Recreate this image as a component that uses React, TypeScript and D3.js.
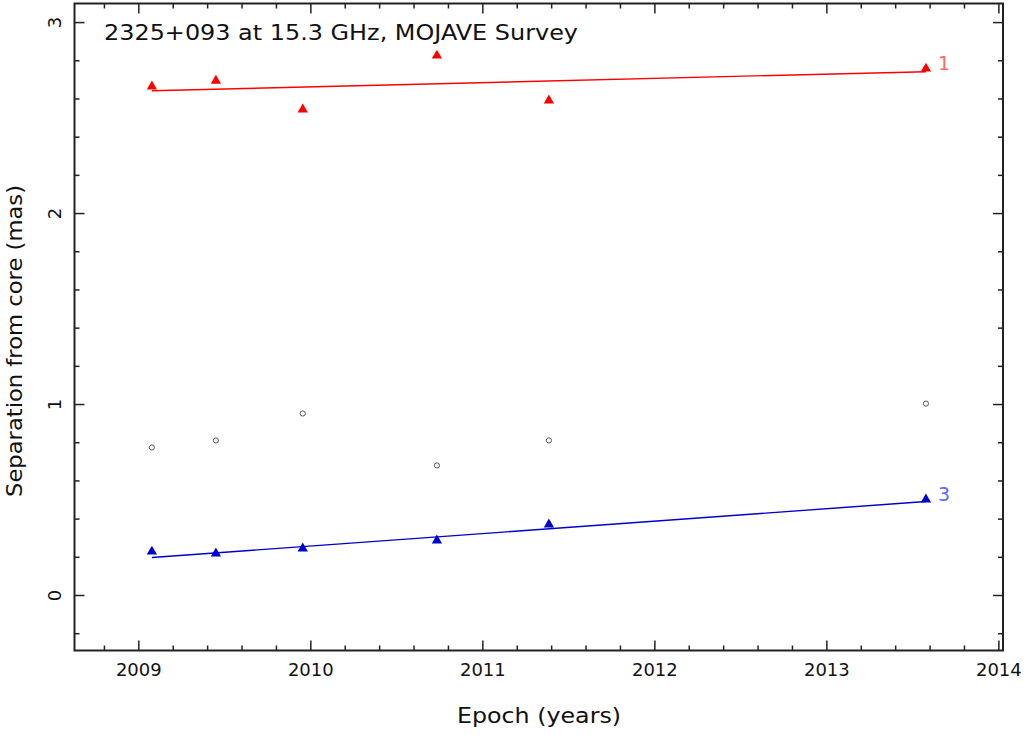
import React from 'react';
import * as d3 from 'd3';

const W = 1027;
const H = 735;

// epochs of the six MOJAVE observations (decimal years)
const epochs = [2009.076, 2009.448, 2009.953, 2010.733, 2011.384, 2013.576];

// component 1 (red), component 3 (blue), unidentified (open circles)
const comp1 = [2.665, 2.696, 2.545, 2.827, 2.592, 2.759];
const comp3 = [0.23, 0.22, 0.246, 0.288, 0.372, 0.503];
const other = [0.775, 0.812, 0.953, 0.681, 0.812, 1.005];

// linear fits: [epoch, separation] at both ends
const fit1 = [[2009.076, 2.643], [2013.576, 2.743]];
const fit3 = [[2009.076, 0.199], [2013.576, 0.492]];

const xMajor = [2009, 2010, 2011, 2012, 2013, 2014];
const yMajor = [0, 1, 2, 3];

const FONT = '"DejaVu Sans", "Liberation Sans", sans-serif';

const App: React.FC = () => {
  const left = 74.5, right = 1003, top = 3.5, bottom = 650.5;

  const x = d3.scaleLinear().domain([2008.626, 2014.024]).range([left, right]);
  const y = d3.scaleLinear().domain([-0.288, 3.1]).range([bottom, top]);

  const xMinor = d3.range(2008.8, 2014.01, 0.2).map(v => +v.toFixed(1));
  const yMinor = d3.range(-0.2, 3.1, 0.2).map(v => +v.toFixed(1));

  const line = d3.line<number[]>().x(d => x(d[0])).y(d => y(d[1]));
  const tri = d3.symbol().type(d3.symbolTriangle).size(46)();

  return (
    <svg width={W} height={H} style={{ display: 'block', position: 'absolute', left: 0, top: 0 }}>
      <rect width={W} height={H} fill="#fff" />

      {/* ticks on all four sides */}
      <g stroke="#222" strokeWidth={1.5}>
        {xMinor.map(v => {
          const len = xMajor.includes(v) ? 10 : 5;
          return (
            <g key={'xt' + v}>
              <line x1={x(v)} x2={x(v)} y1={bottom} y2={bottom - len} />
              <line x1={x(v)} x2={x(v)} y1={top} y2={top + len} />
            </g>
          );
        })}
        {yMinor.map(v => {
          const len = yMajor.includes(v) ? 10 : 5;
          return (
            <g key={'yt' + v}>
              <line x1={left} x2={left + len} y1={y(v)} y2={y(v)} />
              <line x1={right} x2={right - len} y1={y(v)} y2={y(v)} />
            </g>
          );
        })}
      </g>
      <rect x={left} y={top} width={right - left} height={bottom - top} fill="none" stroke="#222" strokeWidth={2} />

      {/* tick labels */}
      <g fontFamily={FONT} fontSize={18} fill="#111">
        {xMajor.map(v => (
          <text key={'xl' + v} x={x(v)} y={676} textAnchor="middle">{v}</text>
        ))}
        {yMajor.map(v => (
          <text key={'yl' + v} transform={`translate(61,${y(v)}) rotate(-90)`} textAnchor="middle">{v}</text>
        ))}
      </g>

      {/* axis titles */}
      <text x={457} y={723} textLength={164} lengthAdjust="spacingAndGlyphs" fontFamily={FONT} fontSize={21} fill="#111">
        Epoch (years)
      </text>
      <text transform="translate(22,497) rotate(-90)" textLength={312} lengthAdjust="spacingAndGlyphs" fontFamily={FONT} fontSize={21} fill="#111">
        Separation from core (mas)
      </text>
      <text x={104} y={40} textLength={474} lengthAdjust="spacingAndGlyphs" fontFamily={FONT} fontSize={22} fill="#111">
        2325+093 at 15.3 GHz, MOJAVE Survey
      </text>

      {/* fits */}
      <path d={line(fit1) || ''} stroke="#f00" strokeWidth={1.4} fill="none" />
      <path d={line(fit3) || ''} stroke="#00c" strokeWidth={1.4} fill="none" />

      {/* points */}
      {epochs.map((e, i) => (
        <path key={'c1' + i} d={tri || ''} transform={`translate(${x(e)},${y(comp1[i])})`} fill="#f00" />
      ))}
      {epochs.map((e, i) => (
        <path key={'c3' + i} d={tri || ''} transform={`translate(${x(e)},${y(comp3[i])})`} fill="#00c" />
      ))}
      {epochs.map((e, i) => (
        <circle key={'o' + i} cx={x(e)} cy={y(other[i])} r={2.6} fill="none" stroke="#555" strokeWidth={1} />
      ))}

      {/* component labels */}
      <text x={x(2013.576) + 12} y={y(2.759) + 1} fontFamily={FONT} fontSize={19} fill="#ff6666">1</text>
      <text x={x(2013.576) + 12} y={y(0.503) + 2} fontFamily={FONT} fontSize={19} fill="#6666ff">3</text>
    </svg>
  );
};

export default App;
